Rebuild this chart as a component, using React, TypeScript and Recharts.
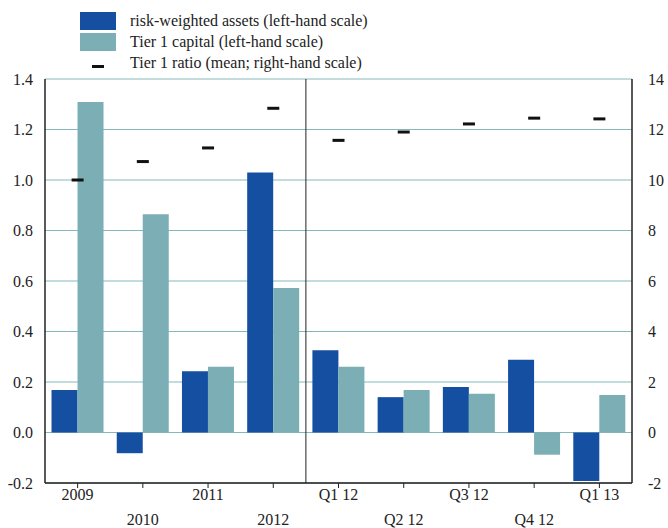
import React from "react";
import {
  ComposedChart,
  Bar,
  Scatter,
  XAxis,
  YAxis,
  CartesianGrid,
  ReferenceLine,
} from "recharts";

const categories = ["2009", "2010", "2011", "2012", "Q1 12", "Q2 12", "Q3 12", "Q4 12", "Q1 13"];
const riskWeightedAssets = [0.168, -0.082, 0.243, 1.03, 0.326, 0.14, 0.18, 0.288, -0.192];
const tier1Capital = [1.309, 0.864, 0.26, 0.572, 0.26, 0.168, 0.153, -0.088, 0.149];
const tier1Ratio = [10.0, 10.73, 11.27, 12.84, 11.57, 11.9, 12.22, 12.45, 12.42];
const leftTicks = [-0.2, 0, 0.2, 0.4, 0.6, 0.8, 1.0, 1.2, 1.4];
const rightTicks = [-2, 0, 2, 4, 6, 8, 10, 12, 14];

const data = categories.map((c, i) => ({
  name: c,
  rwa: riskWeightedAssets[i],
  t1: tier1Capital[i],
  ratio: tier1Ratio[i],
}));

const BLUE = "#154FA1";
const TEAL = "#7BAFB5";
const GRID = "#86B8BB";
const FONT = "Liberation Serif, Times New Roman, serif";
const FS = 16;

const XTick = (props: any) => {
  const { x, y, payload, index } = props;
  const second = index % 2 === 1;
  return (
    <g>
      <line x1={x} x2={x} y1={y} y2={y + 5} stroke="#222" strokeWidth={1} />
      <text
        x={x}
        y={y + (second ? 38 : 13)}
        textAnchor="middle"
        dominantBaseline="middle"
        fontFamily={FONT}
        fontSize={FS}
        fill="#222"
      >
        {payload.value}
      </text>
    </g>
  );
};

const Dash = (props: any) => {
  const { cx, cy } = props;
  if (cx == null || cy == null) return null;
  return <rect x={cx - 6} y={cy - 1.5} width={12} height={3} fill="#111" />;
};

const legendText: React.CSSProperties = {
  position: "absolute",
  left: 130,
  lineHeight: "20px",
  fontFamily: FONT,
  fontSize: FS,
  color: "#222",
  whiteSpace: "nowrap",
};

export default function App() {
  return (
    <div style={{ position: "absolute", left: 0, top: 0, width: 668, height: 528, background: "#fff" }}>
      <ComposedChart
        width={668}
        height={528}
        data={data}
        margin={{ top: 79, right: 0, bottom: 0, left: 0 }}
        barCategoryGap="10%"
        barGap={0}
      >
        <CartesianGrid horizontal vertical={false} stroke={GRID} strokeWidth={1} yAxisId="left" />
        <XAxis
          dataKey="name"
          height={45}
          interval={0}
          tickLine={false}
          tickSize={0}
          tickMargin={0}
          axisLine={{ stroke: "#222", strokeWidth: 1.5 }}
          tick={<XTick />}
        />
        <YAxis
          yAxisId="left"
          orientation="left"
          width={45}
          domain={[-0.2, 1.4]}
          ticks={leftTicks}
          interval={0}
          allowDataOverflow
          tickFormatter={(v: number) => v.toFixed(1)}
          tickLine={false}
          tickMargin={6}
          axisLine={{ stroke: "#222", strokeWidth: 1.5 }}
          tick={{ fontFamily: FONT, fontSize: FS, fill: "#222" }}
        />
        <YAxis
          yAxisId="right"
          orientation="right"
          width={36}
          domain={[-2, 14]}
          ticks={rightTicks}
          interval={0}
          allowDataOverflow
          tickLine={false}
          tickMargin={10}
          axisLine={{ stroke: "#222", strokeWidth: 1.5 }}
          tick={{ fontFamily: FONT, fontSize: FS, fill: "#222", textAnchor: "start" }}
        />
        <Bar yAxisId="left" dataKey="rwa" fill={BLUE} isAnimationActive={false} />
        <Bar yAxisId="left" dataKey="t1" fill={TEAL} isAnimationActive={false} />
        <ReferenceLine yAxisId="left" x="Q1 12" position="start" stroke="#222" strokeWidth={1} />
        <Scatter yAxisId="right" dataKey="ratio" shape={<Dash />} isAnimationActive={false} />
      </ComposedChart>
      <div style={{ position: "absolute", left: 80, top: 12, width: 36, height: 18, background: BLUE }} />
      <div style={{ ...legendText, top: 11 }}>risk-weighted assets (left-hand scale)</div>
      <div style={{ position: "absolute", left: 80, top: 33, width: 36, height: 18, background: TEAL }} />
      <div style={{ ...legendText, top: 32 }}>Tier 1 capital (left-hand scale)</div>
      <div style={{ position: "absolute", left: 92, top: 65, width: 12, height: 3, background: "#111" }} />
      <div style={{ ...legendText, top: 53 }}>Tier 1 ratio (mean; right-hand scale)</div>
    </div>
  );
}
